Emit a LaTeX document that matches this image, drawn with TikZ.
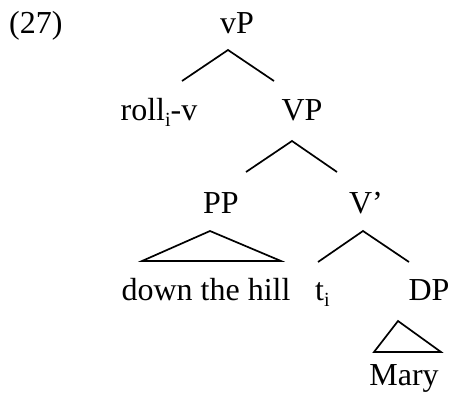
\documentclass[tikz,border=0pt]{standalone}
\usepackage{fontspec}
\setmainfont{Liberation Serif}
\newcommand{\lowsub}[1]{\raisebox{-6pt}{\fontsize{20}{20}\selectfont #1}}
\begin{document}
\begin{tikzpicture}[x=1pt,y=-1pt,
  lbl/.style={anchor=base,inner sep=0pt,font=\fontsize{32}{36}\selectfont},
  branch/.style={line width=1.7pt,line join=miter}]
\useasboundingbox (0,0) rectangle (452,397);
\node[lbl,anchor=base west] (ex) at (9,33) {(27)};
\node[lbl] (vP) at (237,33) {vP};
\node[lbl] (roll) at (159,120) {roll\lowsub{i}-v};
\node[lbl] (VP) at (302,120) {VP};
\node[lbl] (PP) at (221,213) {PP};
\node[lbl] (Vbar) at (366,213) {V’};
\node[lbl] (dth) at (206,300) {down the hill};
\node[lbl,anchor=base west] (t) at (315,300) {t\lowsub{i}};
\node[lbl] (DP) at (429,300) {DP};
\node[lbl] (Mary) at (404,385) {Mary};
% branch points
\coordinate (a1) at (228,50); \coordinate (l1) at (182,81); \coordinate (r1) at (274,81);
\coordinate (a2) at (292,141); \coordinate (l2) at (246,172); \coordinate (r2) at (337,172);
\coordinate (a3) at (210,231); \coordinate (l3) at (142,261); \coordinate (r3) at (281,261);
\coordinate (a4) at (363,231); \coordinate (l4) at (318,262); \coordinate (r4) at (409,262);
\coordinate (a5) at (398,321); \coordinate (l5) at (374,352); \coordinate (r5) at (441,352);
\draw[branch] (l1) -- (a1) -- (r1);
\draw[branch] (l2) -- (a2) -- (r2);
\draw[branch] (l3) -- (a3) -- (r3) -- cycle;
\draw[branch] (l4) -- (a4) -- (r4);
\draw[branch] (l5) -- (a5) -- (r5) -- cycle;
\end{tikzpicture}
\end{document}
